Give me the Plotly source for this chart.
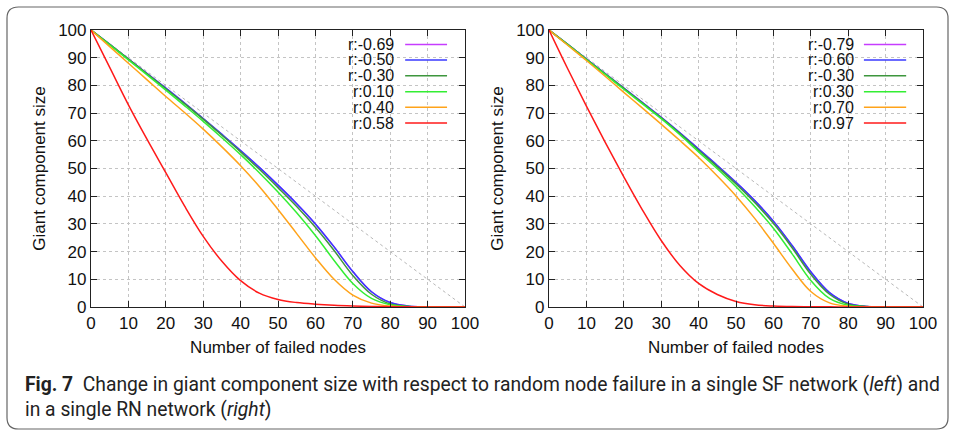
import plotly.graph_objects as go

# ---------------- data ----------------
x_vals = [0, 5, 10, 15, 20, 25, 30, 35, 40, 45, 50, 55, 60, 65, 70, 75, 80, 85, 90, 95, 100]

left_labels = ["r:-0.69", "r:-0.50", "r:-0.30", "r:0.10", "r:0.40", "r:0.58"]
left_series = [
    [100, 94.8, 89.5, 84.3, 79, 73.6, 68, 62.3, 56.5, 50.4, 44, 37.3, 30, 21.7, 12.8, 5.5, 1.6, 0.3, 0.1, 0.05, 0],
    [100, 94.8, 89.5, 84.3, 79, 73.6, 68, 62.3, 56.5, 50.4, 44, 37.3, 30, 21.7, 12.8, 5.5, 1.6, 0.3, 0.1, 0.05, 0],
    [100, 94.8, 89.5, 84.2, 78.8, 73.4, 67.8, 62, 56, 49.7, 43.1, 36.3, 28.8, 20.4, 11.4, 4.6, 1.1, 0.2, 0.05, 0.02, 0],
    [100, 94.6, 89.2, 83.8, 78.3, 72.7, 67, 61.1, 55, 48.5, 41.5, 34, 25.8, 16.8, 8.5, 3.1, 0.8, 0.15, 0.05, 0.02, 0],
    [100, 94, 88, 82, 76, 70.2, 64.2, 57.8, 51, 43.5, 35.2, 26.5, 17.8, 10, 4.3, 1.4, 0.35, 0.08, 0.02, 0.01, 0],
    [100, 86.5, 73, 60.5, 48.5, 36.5, 25.5, 16.5, 9.5, 5, 2.7, 1.6, 1, 0.6, 0.35, 0.2, 0.1, 0.05, 0.02, 0.01, 0],
]

right_labels = ["r:-0.79", "r:-0.60", "r:-0.30", "r:0.30", "r:0.70", "r:0.97"]
right_series = [
    [100, 94.8, 89.5, 84.3, 79, 73.8, 68.5, 62.9, 57, 51.1, 45, 38.4, 31, 22.2, 12.7, 5.2, 1.3, 0.2, 0.05, 0.02, 0],
    [100, 94.8, 89.5, 84.3, 79, 73.8, 68.5, 62.9, 57, 51.1, 45, 38.4, 31, 22.2, 12.7, 5.2, 1.3, 0.2, 0.05, 0.02, 0],
    [100, 94.8, 89.4, 84.2, 78.9, 73.6, 68.3, 62.6, 56.6, 50.6, 44.4, 37.7, 30.2, 21.4, 11.8, 4.6, 1.0, 0.15, 0.05, 0.02, 0],
    [100, 94.7, 89.3, 84, 78.6, 73.3, 68, 62.2, 56, 49.9, 43.4, 36.3, 28.4, 19.2, 9.6, 3.1, 0.6, 0.1, 0.03, 0.01, 0],
    [100, 94.5, 89, 83.3, 77.5, 71.8, 66, 60.1, 54, 47.3, 40.1, 32, 23, 13.7, 5.6, 1.5, 0.3, 0.05, 0.02, 0.01, 0],
    [100, 86, 72.5, 59.5, 47, 35, 24, 15, 8.5, 4.5, 2, 0.8, 0.35, 0.15, 0.1, 0.05, 0.02, 0.01, 0, 0, 0],
]

diag_x = [0, 100]
diag_y = [100, 0]

colors = ["#c63cff", "#3a3aff", "#3d963d", "#33ee33", "#ffa31a", "#ff1a1a"]

xtick_vals = list(range(0, 101, 10))
ytick_vals = list(range(0, 101, 10))

x_title = "Number of failed nodes"
y_title = "Giant component size"
caption_line1 = "<b>Fig. 7</b>  Change in giant component size with respect to random node failure in a single SF network (<i>left</i>) and"
caption_line2 = "in a single RN network (<i>right</i>)"

# ---------------- figure ----------------
W, H = 955, 431
fig = go.Figure()

panels = [("x", "y", left_series, left_labels), ("x2", "y2", right_series, right_labels)]
for xa, ya, series, labels in panels:
    fig.add_trace(go.Scatter(x=diag_x, y=diag_y, mode="lines", xaxis=xa, yaxis=ya,
                             line=dict(color="#b8b8b8", width=1, dash="dot"),
                             showlegend=False, hoverinfo="skip"))
    for s, lab, c in zip(series, labels, colors):
        fig.add_trace(go.Scatter(x=x_vals, y=s, mode="lines", name=lab, xaxis=xa, yaxis=ya,
                                 line=dict(color=c, width=1.5, shape="spline", smoothing=1.0),
                                 showlegend=False))

# manual legends (text right, sample line to the right)
leg_font = dict(family="Liberation Sans, Arial, sans-serif", size=16, color="#111")
leg_rows = [0.948, 0.892, 0.835, 0.777, 0.721, 0.664]
for xa, ya, labels, tx, l0, l1 in [("x", "y", left_labels, 0.813, 0.840, 0.952),
                                   ("x2", "y2", right_labels, 0.818, 0.842, 0.955)]:
    for lab, c, ry in zip(labels, colors, leg_rows):
        fig.add_annotation(x=tx, y=ry, xref=f"{xa} domain", yref=f"{ya} domain",
                           text=lab, showarrow=False, xanchor="right", yanchor="middle",
                           font=leg_font, borderpad=0)
        fig.add_shape(type="line", x0=l0, x1=l1, y0=ry, y1=ry,
                      xref=f"{xa} domain", yref=f"{ya} domain",
                      line=dict(color=c, width=1.5))

axis_font = dict(family="Liberation Sans, Arial, sans-serif", size=17, color="#111")
common_x = dict(range=[0, 100], tickvals=xtick_vals, ticks="inside", ticklen=6, tickcolor="#222",
                showline=True, linecolor="#222", linewidth=1.2, mirror="ticks",
                showgrid=True, gridcolor="#c4c4c4", griddash="dot", gridwidth=1,
                zeroline=False, tickfont=axis_font, automargin=False,
                title=dict(text=x_title, font=axis_font, standoff=9))
common_y = dict(range=[0, 100], tickvals=ytick_vals, ticks="inside", ticklen=6, tickcolor="#222",
                showline=True, linecolor="#222", linewidth=1.2, mirror="ticks",
                showgrid=True, gridcolor="#c4c4c4", griddash="dot", gridwidth=1,
                zeroline=False, tickfont=axis_font, automargin=False,
                title=dict(text=y_title, font=axis_font, standoff=8))

ydom = [(H - 307) / H, (H - 30) / H]
fig.update_layout(
    template="none",
    width=W, height=H,
    margin=dict(l=0, r=0, t=0, b=0, autoexpand=False),
    paper_bgcolor="white", plot_bgcolor="white",
    xaxis=dict(domain=[91 / W, 465 / W], anchor="y", **common_x),
    yaxis=dict(domain=ydom, anchor="x", **common_y),
    xaxis2=dict(domain=[549 / W, 923 / W], anchor="y2", **common_x),
    yaxis2=dict(domain=ydom, anchor="x2", **common_y),
)

# caption
cap_font = dict(family="Roboto, sans-serif", size=19.3, color="#222")
fig.add_annotation(x=23 / W, y=1 - 384 / H, xref="paper", yref="paper", text=caption_line1,
                   showarrow=False, xanchor="left", yanchor="middle", font=cap_font)
fig.add_annotation(x=23 / W, y=1 - 409 / H, xref="paper", yref="paper", text=caption_line2,
                   showarrow=False, xanchor="left", yanchor="middle", font=cap_font)

# rounded frame
x0, x1 = 7 / W, 948 / W
yt, yb = 1 - 7 / H, 1 - 429 / H
fig.add_shape(type="path", xref="paper", yref="paper",
              path=(f"M {x0+0.012} {yt} L {x1-0.012} {yt} Q {x1} {yt} {x1} {yt-0.026} "
                    f"L {x1} {yb+0.026} Q {x1} {yb} {x1-0.012} {yb} "
                    f"L {x0+0.012} {yb} Q {x0} {yb} {x0} {yb+0.026} "
                    f"L {x0} {yt-0.026} Q {x0} {yt} {x0+0.012} {yt} Z"),
              line=dict(color="#666", width=1.2), fillcolor="rgba(0,0,0,0)", layer="below")

fig.write_html(
    "out.html",
    config={"displayModeBar": False},
    post_script="document.body.style.margin='0';document.body.style.padding='0';"
                "document.documentElement.style.overflow='hidden';",
)
